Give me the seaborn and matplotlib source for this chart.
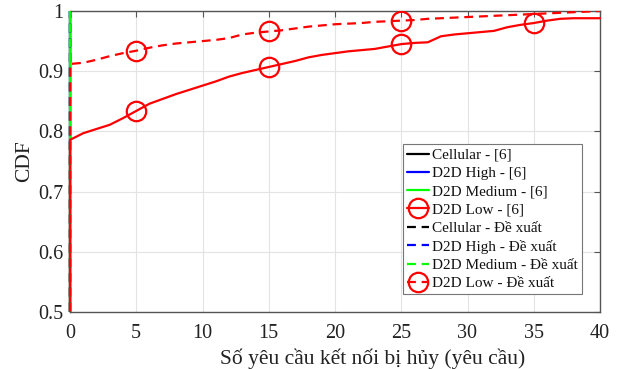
import matplotlib
matplotlib.use("Agg")
import matplotlib.pyplot as plt
from matplotlib.transforms import Bbox, TransformedBbox
import seaborn as sns
import pandas as pd

# ---------------- data ----------------
x_req = [0, 0, 1, 2, 3, 4, 5, 6, 7, 8, 9, 10, 11, 12, 13, 14, 15, 16, 17, 18, 19, 20,
         21, 22, 23, 24, 25, 26, 27, 28, 29, 30, 31, 32, 33, 34, 35, 36, 37, 38, 39, 40]

low_ref = [0, 0.786, 0.797, 0.804, 0.811, 0.822, 0.834, 0.846, 0.854, 0.862, 0.869, 0.876,
           0.883, 0.891, 0.897, 0.902, 0.907, 0.912, 0.917, 0.923, 0.927, 0.930, 0.933,
           0.935, 0.937, 0.941, 0.945, 0.947, 0.948, 0.958, 0.961, 0.963, 0.965, 0.967,
           0.973, 0.977, 0.980, 0.984, 0.987, 0.988, 0.988, 0.988]

low_prop = [0, 0.912, 0.914, 0.919, 0.925, 0.930, 0.934, 0.939, 0.943, 0.946, 0.948, 0.950,
            0.952, 0.955, 0.961, 0.964, 0.966, 0.968, 0.971, 0.974, 0.976, 0.978, 0.979,
            0.980, 0.982, 0.983, 0.984, 0.985, 0.987, 0.988, 0.989, 0.990, 0.991, 0.992,
            0.993, 0.994, 0.995, 0.996, 0.997, 0.998, 0.999, 1.0]

# Cellular / D2D High / D2D Medium: all mass at 0 (CDF jumps to 1 at x = 0)
x_const = [0, 0]
y_const = [0, 1]

markers_ref_x = [5, 15, 25, 35]
markers_prop_x = [5, 15, 25]

labels = ["Cellular - [6]", "D2D High - [6]", "D2D Medium - [6]", "D2D Low - [6]",
          "Cellular - Đề xuất", "D2D High - Đề xuất", "D2D Medium - Đề xuất",
          "D2D Low - Đề xuất"]
x_ticks = [0, 5, 10, 15, 20, 25, 30, 35, 40]
y_ticks = [0.5, 0.6, 0.7, 0.8, 0.9, 1.0]
y_ticklabels = ["0.5", "0.6", "0.7", "0.8", "0.9", "1"]

# ---------------- style ----------------
sns.set_theme(style="white")
plt.rcParams['font.family'] = ['Liberation Serif', 'DejaVu Serif']

fig = plt.figure(figsize=(6.2, 3.69), dpi=100)
ax = fig.add_axes([70 / 620, 1 - 312 / 369, 530 / 620, 301 / 369])

red = "#ff0000"
lw = 1.6
dash = (0, (4.0, 2.6))


def midx(xs, wanted):
    return [i for i, v in enumerate(xs) if v in wanted and i > 0]


series = [
    (x_const, y_const, "#000000", "-", None, None),
    (x_const, y_const, "#0000ff", "-", None, None),
    (x_const, y_const, "#00ff00", "-", None, None),
    (x_req, low_ref, red, "-", "o", midx(x_req, markers_ref_x)),
    (x_const, y_const, "#000000", dash, None, None),
    (x_const, y_const, "#0000ff", dash, None, None),
    (x_const, y_const, "#00ff00", dash, None, None),
    (x_req, low_prop, red, dash, "o", midx(x_req, markers_prop_x)),
]

clip = TransformedBbox(Bbox([[-0.02, 0.0], [1.02, 1.0]]), ax.transAxes)

handles = []
for (xs, ys, col, ls, mk, me), lab in zip(series, labels):
    df = pd.DataFrame({"x": xs, "y": ys})
    kw = dict(color=col, linewidth=lw, linestyle=ls, label=lab)
    if mk:
        kw.update(marker=mk, markevery=me, markersize=14, markerfacecolor="none",
                  markeredgecolor=col, markeredgewidth=1.6)
    sns.lineplot(data=df, x="x", y="y", ax=ax, estimator=None, sort=False, **kw)
    ln = ax.lines[-1]
    ln.set_zorder(6)
    ln.set_clip_box(clip)
    handles.append(ln)

ax.set_xlim(0, 40)
ax.set_ylim(0.5, 1.0)
ax.set_xticks(x_ticks)
ax.set_yticks(y_ticks)
ax.set_yticklabels(y_ticklabels)
ax.grid(True, color="#e3e3e3", linewidth=0.8)
ax.set_axisbelow(True)

for s in ax.spines.values():
    s.set_visible(True)
    s.set_color("#555555")
    s.set_linewidth(1.0)
    s.set_zorder(5)

ax.tick_params(axis="both", which="both", direction="in", length=4, width=0.8,
               colors="#555555", labelcolor="#222222", labelsize=14.5,
               top=True, right=True)
ax.tick_params(axis="y", pad=5)
ax.tick_params(axis="x", pad=9)

ax.set_xlabel("Số yêu cầu kết nối bị hủy (yêu cầu)", fontsize=15.5, color="#222222")
ax.xaxis.label.set_verticalalignment("baseline")
ax.xaxis.set_label_coords((373 - 70) / 530, -(364 - 312) / 301)
ax.set_ylabel("CDF", fontsize=15.5, color="#222222")
ax.yaxis.label.set_verticalalignment("center")
ax.yaxis.set_label_coords(-(70 - 25) / 530, 0.5)

leg = ax.legend(handles=handles, labels=labels, loc="lower right",
                bbox_to_anchor=(1 - 18 / 530, 18 / 301), fontsize=11,
                frameon=True, fancybox=False, framealpha=1, edgecolor="#777777",
                handlelength=1.45, handletextpad=0.2, borderpad=0.25,
                labelspacing=0.3, borderaxespad=0.0)
leg.get_frame().set_linewidth(0.8)
leg.set_zorder(7)
for t in leg.get_texts():
    t.set_color("#111111")

fig.savefig("out.png", dpi=100)
